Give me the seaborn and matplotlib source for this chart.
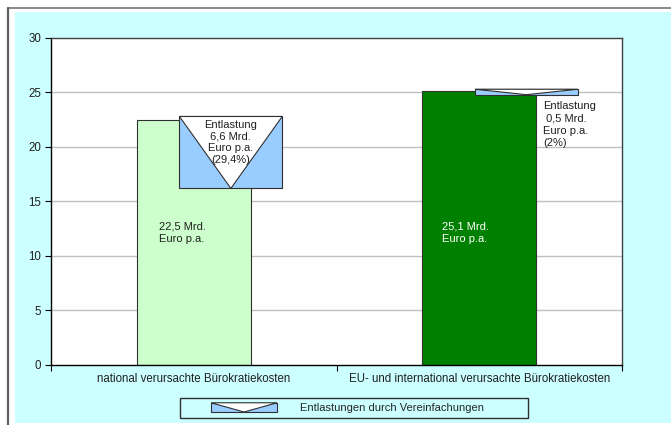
"""Buerokratiekosten und Entlastungen"""

import matplotlib
matplotlib.use("Agg")
import matplotlib.pyplot as plt
import seaborn as sns
import pandas as pd
from matplotlib.patches import Rectangle, Polygon
from matplotlib.legend_handler import HandlerBase
from matplotlib.lines import Line2D

# data
categories = ["national verursachte Bürokratiekosten",
              "EU- und international verursachte Bürokratiekosten"]
costs = [22.5, 25.1]
relief = [6.6, 0.5]
relief_top = [22.8, 25.3]
cost_labels = ["22,5 Mrd.\nEuro p.a.", "25,1 Mrd.\nEuro p.a."]
relief_labels = ["Entlastung\n6,6 Mrd.\nEuro p.a.\n(29,4%)",
                 "Entlastung\n 0,5 Mrd.\nEuro p.a.\n(2%)"]
legend_label = "Entlastungen durch Vereinfachungen"
y_ticks = [0, 5, 10, 15, 20, 25, 30]

BAR_COLORS = ["#CCFFCC", "#008000"]
BLUE = "#99CCFF"
CYAN = "#CCFFFF"
EDGE = "#303030"
FS = 8

sns.set_theme(style="white")
plt.rcParams["font.family"] = ["Liberation Sans", "DejaVu Sans"]
plt.rcParams["font.size"] = FS
plt.rcParams["xtick.labelsize"] = 8.3
plt.rcParams["ytick.labelsize"] = 8.3
plt.rcParams["legend.fontsize"] = FS


class TriangleHandler(HandlerBase):
    """legend handle: blue box with white triangle"""
    def create_artists(self, legend, orig_handle, xdescent, ydescent,
                       width, height, fontsize, trans):
        x0, y0 = -xdescent, -ydescent
        rect = Rectangle((x0, y0), width, height, facecolor=BLUE,
                         edgecolor=EDGE, lw=0.8, transform=trans)
        tri = Polygon([[x0, y0 + height], [x0 + width, y0 + height],
                       [x0 + width / 2, y0]], closed=True, facecolor="white",
                      edgecolor=EDGE, lw=0.8, transform=trans)
        return [rect, tri]


fig = plt.figure(figsize=(6.71, 4.25), dpi=100)
fig.patch.set_facecolor("white")
# cyan chart area and grey frame lines
fig.patches.append(Rectangle((0.0224, 0.0047), 0.98, 0.9671, transform=fig.transFigure,
                             facecolor=CYAN, edgecolor="none", zorder=-5))
fig.lines.append(Line2D([0.012, 1.0], [0.981, 0.981], transform=fig.transFigure,
                        color="#808080", lw=1.3))
fig.lines.append(Line2D([0.012, 0.012], [0.0, 0.981], transform=fig.transFigure,
                        color="#606060", lw=1.6))

ax = fig.add_axes([0.076, 0.1412, 0.851, 0.7694])
ax.set_facecolor("white")

df = pd.DataFrame({"cat": categories, "cost": costs})
sns.barplot(data=df, x="cat", y="cost", hue="cat", palette=BAR_COLORS,
            saturation=1, width=0.4, edgecolor=EDGE, linewidth=0.8,
            legend=False, ax=ax, zorder=2)

# relief boxes with white triangle
offsets = [0.13, 0.165]
box_w = 0.36
for i, (top, r) in enumerate(zip(relief_top, relief)):
    cx = i + offsets[i]
    left = cx - box_w / 2
    ax.add_patch(Rectangle((left, top - r), box_w, r, facecolor=BLUE,
                           edgecolor=EDGE, lw=0.8, zorder=3))
    ax.add_patch(Polygon([[left, top], [left + box_w, top], [cx, top - r]],
                         closed=True, facecolor="white", edgecolor=EDGE,
                         lw=0.8, zorder=4))

# text labels
ax.text(0 - 0.12, 12.1, cost_labels[0], ha="left", va="center",
        color="#202020", zorder=5, linespacing=1.3)
ax.text(1 - 0.13, 12.1, cost_labels[1], ha="left", va="center",
        color="white", zorder=5, linespacing=1.3)
ax.text(0 + 0.13, 22.5, relief_labels[0], ha="center", va="top",
        color="#202020", zorder=5, linespacing=1.2)
ax.text(1 + 0.224, 24.2, relief_labels[1], ha="left", va="top",
        color="#202020", zorder=5, linespacing=1.3)

ax.set_ylim(0, 30)
ax.set_xlim(-0.5, 1.5)
ax.set_yticks(y_ticks)
ax.set_yticklabels([str(t) for t in y_ticks], color="#202020")
ax.set_xticks([-0.5, 0.5, 1.5])
ax.set_xticklabels([])
ax.set_xticks([0, 1], minor=True)
ax.set_xticklabels(categories, minor=True, color="#202020")
ax.tick_params(axis="x", which="major", direction="out", length=4,
               width=0.8, color="black", bottom=True)
ax.tick_params(axis="x", which="minor", length=0, pad=6)
ax.tick_params(axis="y", direction="out", length=4, width=0.8,
               color="black", left=True, pad=3)
ax.set_xlabel("")
ax.set_ylabel("")

ax.set_axisbelow(True)
for t in y_ticks[1:-1]:
    ax.axhline(t, color="#C0C0C0", lw=1.0, zorder=0.5)

for side in ["left", "bottom"]:
    ax.spines[side].set_color("black")
    ax.spines[side].set_linewidth(1.0)
for side in ["top", "right"]:
    ax.spines[side].set_color("#404040")
    ax.spines[side].set_linewidth(1.0)

# legend with a drawn frame
fig.patches.append(Rectangle((180 / 671, 1 - 418 / 425), 348 / 671, 20 / 425,
                             transform=fig.transFigure, facecolor="none",
                             edgecolor=EDGE, lw=1.0, zorder=5))
handle = Rectangle((0, 0), 1, 1)
fig.legend([handle], [legend_label], handler_map={Rectangle: TriangleHandler()},
           loc="center left", bbox_to_anchor=(211 / 671, 1 - 408 / 425),
           frameon=False, handlelength=5.95, handleheight=0.9,
           handletextpad=2.1, borderpad=0.0, borderaxespad=0.0)

fig.savefig("out.png", dpi=100, facecolor="white")
